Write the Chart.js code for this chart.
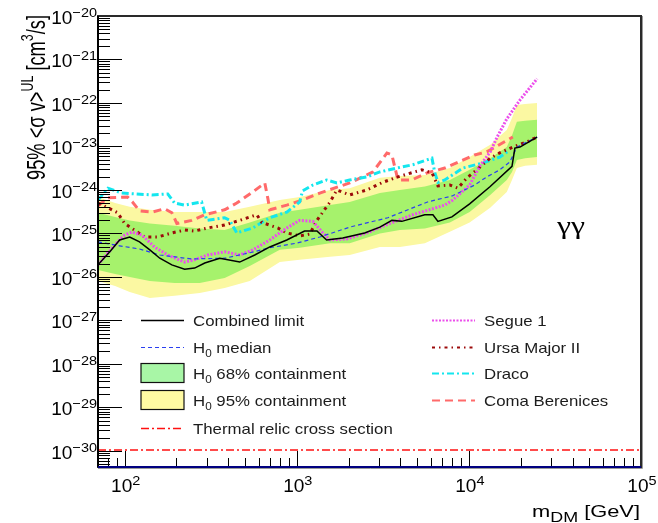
<!DOCTYPE html>
<html>
<head>
<meta charset="utf-8">
<title>gamma gamma limits</title>
<script src="https://cdn.jsdelivr.net/npm/chart.js@4"></script>
<style>
  html, body { margin: 0; padding: 0; background: #fff; }
  #wrap { width: 658px; height: 523px; }
</style>
</head>
<body>
<div id="wrap"><canvas id="limitChart" width="658" height="523"></canvas></div>
<script>
// DM mass grid for the H0 containment bands (GeV)
const bandMass = [70, 88, 107, 140, 195, 273, 381, 533, 797, 1040, 1560, 2030, 3040, 3970, 5550, 7750, 10100, 13300, 16600, 17800, 19000, 21200, 24900];
const band95Upper = [6.9e-25, 5.0e-25, 4.1e-25, 3.5e-25, 3.1e-25, 3.1e-25, 3.1e-25, 4.1e-25, 5.9e-25, 6.9e-25, 1.0e-24, 1.1e-24, 1.9e-24, 2.1e-24, 2.2e-24, 3.2e-24, 5.7e-24, 1.1e-23, 2.4e-23, 4.5e-23, 9.0e-23, 9.5e-23, 1.0e-22];
const band68Upper = [3.0e-25, 2.4e-25, 2.0e-25, 1.7e-25, 1.5e-25, 1.3e-25, 1.2e-25, 1.8e-25, 3.0e-25, 3.5e-25, 4.5e-25, 5.3e-25, 8.5e-25, 1.0e-24, 1.2e-24, 1.7e-24, 2.9e-24, 5.4e-24, 9.7e-24, 1.8e-23, 3.7e-23, 3.9e-23, 4.1e-23];
const band68Lower = [1.45e-26, 1.17e-26, 1.0e-26, 8.1e-27, 7.3e-27, 7.3e-27, 9.5e-27, 1.8e-26, 4.2e-26, 4.7e-26, 6.0e-26, 6.0e-26, 1.0e-25, 1.2e-25, 1.3e-25, 1.8e-25, 3.1e-25, 7.7e-25, 1.7e-24, 2.6e-24, 4.9e-24, 5.4e-24, 5.7e-24];
const band95Lower = [8.1e-27, 6.2e-27, 4.5e-27, 3.3e-27, 3.7e-27, 4.3e-27, 5.6e-27, 8.1e-27, 2.2e-26, 2.5e-26, 2.9e-26, 3.2e-26, 4.9e-26, 4.9e-26, 6.0e-26, 1.1e-25, 1.8e-25, 3.9e-25, 9.0e-25, 1.7e-24, 3.2e-24, 3.6e-24, 3.8e-24];

// combined limit
const combinedMass = [70, 82, 93.5, 107, 122, 140, 160, 188, 223, 255, 292, 357, 466, 570, 697, 875, 1110, 1310, 1490, 1850, 2480, 3040, 3570, 4080, 5540, 6180, 6610, 7970, 10100, 13300, 17800, 18500, 19800, 24900];
const combinedLimit = [1.9e-26, 3.8e-26, 7.1e-26, 8.3e-26, 6.4e-26, 4.2e-26, 2.7e-26, 1.9e-26, 1.5e-26, 1.6e-26, 2.1e-26, 2.7e-26, 2.2e-26, 3.2e-26, 4.9e-26, 7.1e-26, 1.14e-25, 1.14e-25, 7.1e-26, 7.9e-26, 1.03e-25, 1.4e-25, 2.0e-25, 1.9e-25, 2.7e-25, 2.7e-25, 1.9e-25, 2.4e-25, 4.8e-25, 1.2e-24, 3.5e-24, 9.2e-24, 9.7e-24, 1.65e-23];

// H0 median
const medianMass = [70, 93.5, 122, 160, 245, 381, 533, 697, 1000, 1360, 2030, 3380, 5750, 8000, 10800, 12700, 15100, 17300, 19000, 21700, 24900];
const medianLimit = [6.4e-26, 5.2e-26, 4.4e-26, 3.2e-26, 2.6e-26, 2.7e-26, 3.6e-26, 4.7e-26, 6.0e-26, 8.3e-26, 1.4e-25, 2.3e-25, 5.3e-25, 7.3e-25, 1.3e-24, 2.0e-24, 2.9e-24, 4.4e-24, 9.7e-24, 1.27e-23, 1.65e-23];

// individual dwarfs
const segueMass = [70, 80, 91, 100, 110, 126, 149, 178, 223, 255, 304, 381, 466, 555, 697, 875, 1040, 1240, 1420, 1560, 1950, 2550, 3470, 4720, 7250, 8070, 10100, 11600, 13300, 14600, 16600, 19800, 24900];
const segueLimit = [1.9e-26, 3.6e-26, 6.4e-26, 9.2e-26, 1.08e-25, 9.2e-26, 4.9e-26, 3.2e-26, 2.2e-26, 2.5e-26, 3.2e-26, 3.8e-26, 3.2e-26, 4.2e-26, 7.1e-26, 1.34e-25, 2.0e-25, 1.9e-25, 1.03e-25, 7.1e-26, 7.5e-26, 1.03e-25, 1.7e-25, 2.7e-25, 4.5e-25, 5.9e-25, 1.3e-24, 3.6e-24, 7.5e-24, 1.65e-23, 4.3e-23, 1.17e-22, 3.6e-22];

const ursaMass = [70, 80, 91, 100, 114, 131, 156, 188, 223, 255, 304, 381, 466, 586, 626, 775, 875, 1040, 1190, 1310, 1560, 1710, 2030, 2550, 3160, 3870, 4660, 5330, 6100, 6610, 7750, 8630, 9740, 11100, 13300, 15100, 18000, 21700, 24900];
const ursaLimit = [5.0e-25, 3.9e-25, 3.0e-25, 1.7e-25, 1.2e-25, 8.3e-26, 8.3e-26, 1.03e-25, 1.2e-25, 1.14e-25, 1.34e-25, 1.57e-25, 2.0e-25, 2.7e-25, 1.8e-25, 1.34e-25, 1.03e-25, 8.8e-26, 9.7e-26, 2.0e-25, 5.3e-25, 1.0e-24, 7.7e-25, 1.0e-24, 1.5e-24, 2.0e-24, 2.5e-24, 2.9e-24, 2.5e-24, 1.24e-24, 1.3e-24, 1.1e-24, 1.9e-24, 2.9e-24, 5.4e-24, 7.1e-24, 9.7e-24, 1.27e-23, 1.65e-23];

const dracoMass = [70, 80, 96, 144, 178, 195, 223, 280, 300, 381, 408, 448, 555, 697, 875, 1040, 1080, 1240, 1490, 1710, 2030, 2550, 3040, 3810, 4720, 6100, 6340, 6610, 7250, 9230, 12100, 15100, 17300];
const dracoLimit = [5.9e-25, 1.1e-24, 8.5e-25, 7.7e-25, 8.1e-25, 5.0e-25, 4.5e-25, 5.3e-25, 2.0e-25, 2.3e-25, 2.0e-25, 1.03e-25, 1.34e-25, 2.3e-25, 3.1e-25, 5.3e-25, 9.5e-25, 1.3e-24, 1.7e-24, 1.45e-24, 1.7e-24, 2.0e-24, 2.6e-24, 3.2e-24, 3.8e-24, 5.4e-24, 2.5e-24, 1.5e-24, 1.7e-24, 3.2e-24, 4.2e-24, 5.7e-24, 8.3e-24];

const comaMass = [70, 80, 104, 111, 122, 144, 171, 188, 201, 245, 292, 381, 448, 555, 652, 678, 697, 875, 1080, 1360, 2030, 2770, 3340, 3570, 3870, 4660, 5750, 7250, 10800, 12700, 18000];
const comaLimit = [4.3e-25, 6.6e-25, 6.9e-25, 5.3e-25, 3.3e-25, 3.1e-25, 3.7e-25, 3.0e-25, 1.7e-25, 2.0e-25, 2.7e-25, 3.5e-25, 5.0e-25, 9.0e-25, 1.45e-24, 6.6e-25, 3.5e-25, 4.5e-25, 5.9e-25, 8.5e-25, 1.45e-24, 2.6e-24, 7.1e-24, 6.4e-24, 1.7e-24, 1.7e-24, 2.5e-24, 3.2e-24, 6.4e-24, 7.5e-24, 1.65e-23];

// thermal relic reference line
const relicMass = [70, 100000];
const relicLimit = [1.05e-30, 1.05e-30];

// axis decades for the tick labels
const xDecades = [2, 3, 4, 5];
const yDecades = [-30, -29, -28, -27, -26, -25, -24, -23, -22, -21, -20];

const SANS = '"Liberation Sans", Arial, Helvetica, sans-serif';
const SERIF = '"Liberation Serif", "Times New Roman", serif';

function pts(masses, values) {
    return masses.map((m, i) => ({ x: m, y: values[i] }));
}

// split "a^{b}c_{d}" into plain / superscript / subscript pieces
function richParts(text) {
    const parts = [];
    const re = /([\^_])\{([^}]*)\}/g;
    let last = 0, m;
    while ((m = re.exec(text))) {
        if (m.index > last) parts.push({ t: text.slice(last, m.index), k: 'n' });
        parts.push({ t: m[2], k: m[1] === '^' ? 'sup' : 'sub' });
        last = re.lastIndex;
    }
    if (last < text.length) parts.push({ t: text.slice(last), k: 'n' });
    return parts;
}

function drawRich(ctx, text, x, y, o) {
    const size = o.size, fam = o.family || SANS;
    const parts = richParts(text);
    let w = 0;
    parts.forEach(p => {
        p.size = p.k === 'n' ? size : size * (o.small || 0.7);
        ctx.font = p.size + 'px ' + fam;
        p.w = ctx.measureText(p.t).width;
        w += p.w;
    });
    const sx = o.width ? o.width / w : (o.sx || 1);
    ctx.save();
    ctx.translate(x, y);
    if (o.rotate) ctx.rotate(o.rotate);
    ctx.scale(sx, 1);
    ctx.fillStyle = o.color || '#000';
    ctx.textAlign = 'left';
    ctx.textBaseline = 'alphabetic';
    let cx = o.align === 'right' ? -w : (o.align === 'center' ? -w / 2 : 0);
    parts.forEach(p => {
        ctx.font = p.size + 'px ' + fam;
        let dy = 0;
        if (p.k === 'sup') dy = -size * (o.rise || 0.45);
        if (p.k === 'sub') dy = size * (o.drop || 0.28);
        ctx.fillText(p.t, cx, dy);
        cx += p.w;
    });
    ctx.restore();
}

const lineBase = { pointRadius: 0, fill: false, tension: 0, borderCapStyle: 'butt' };

const datasets = [
    { ...lineBase, label: 'Combined limit', data: pts(combinedMass, combinedLimit),
      borderColor: '#000000', borderWidth: 1.5, order: 1 },
    { ...lineBase, label: 'H_{0} median', data: pts(medianMass, medianLimit),
      borderColor: '#2a3ff0', borderWidth: 1.2, borderDash: [4, 3], order: 2 },
    { ...lineBase, label: 'Segue 1', data: pts(segueMass, segueLimit),
      borderColor: '#ec4fec', borderWidth: 3, borderDash: [2, 1.5], order: 3 },
    { ...lineBase, label: 'Ursa Major II', data: pts(ursaMass, ursaLimit),
      borderColor: '#9c0a0a', borderWidth: 3, borderDash: [3, 4, 1.5, 4], order: 4 },
    { ...lineBase, label: 'Draco', data: pts(dracoMass, dracoLimit),
      borderColor: '#14e6ee', borderWidth: 3, borderDash: [7, 3, 2, 3], order: 5 },
    { ...lineBase, label: 'Coma Berenices', data: pts(comaMass, comaLimit),
      borderColor: '#ff6a6a', borderWidth: 3, borderDash: [8, 5], order: 6 },
    { ...lineBase, label: 'Thermal relic cross section', data: pts(relicMass, relicLimit),
      borderColor: '#ff1010', borderWidth: 1.5, borderDash: [8, 3, 2, 3], order: 7 },
    { ...lineBase, label: 'band95 low', data: pts(bandMass, band95Lower),
      borderWidth: 0, borderColor: 'rgba(0,0,0,0)', order: 20 },
    { ...lineBase, label: 'H_{0} 95% containment', data: pts(bandMass, band95Upper),
      borderWidth: 0, borderColor: 'rgba(0,0,0,0)', backgroundColor: '#fbf8a2',
      fill: '-1', legendBox: '#fffaa3', order: 20 },
    { ...lineBase, label: 'band68 low', data: pts(bandMass, band68Lower),
      borderWidth: 0, borderColor: 'rgba(0,0,0,0)', order: 10 },
    { ...lineBase, label: 'H_{0} 68% containment', data: pts(bandMass, band68Upper),
      borderWidth: 0, borderColor: 'rgba(0,0,0,0)', backgroundColor: '#a6f26c',
      fill: '-1', legendBox: '#a8f6a6', order: 10 }
];

// legend columns, by dataset label
const legendLeft = ['Combined limit', 'H_{0} median', 'H_{0} 68% containment', 'H_{0} 95% containment', 'Thermal relic cross section'];
const legendRight = ['Segue 1', 'Ursa Major II', 'Draco', 'Coma Berenices'];

const rootStyle = {
    id: 'rootStyle',
    afterDraw(chart) {
        const { ctx, chartArea: a, scales: { x, y } } = chart;
        ctx.save();

        // tick marks pointing into the frame
        ctx.strokeStyle = '#000';
        ctx.lineWidth = 1;
        ctx.beginPath();
        for (let d = 1; d <= 5; d++) {
            for (let m = 1; m <= 9; m++) {
                const v = m * Math.pow(10, d);
                if (v < x.min || v > x.max * 1.001) continue;
                const px = Math.round(x.getPixelForValue(v)) + 0.5;
                ctx.moveTo(px, a.bottom);
                ctx.lineTo(px, a.bottom - (m === 1 ? 16 : 9));
            }
        }
        for (let d = -31; d <= -20; d++) {
            for (let m = 1; m <= 9; m++) {
                const v = m * Math.pow(10, d);
                if (v < y.min || v > y.max * 1.001) continue;
                const py = Math.round(y.getPixelForValue(v)) + 0.5;
                ctx.moveTo(a.left, py);
                ctx.lineTo(a.left + (m === 1 ? 24 : 12), py);
            }
        }
        ctx.stroke();

        // frame
        ctx.lineWidth = 2;
        ctx.strokeStyle = '#2a2a2a';
        ctx.strokeRect(a.left, a.top, a.right - a.left, a.bottom - a.top);
        ctx.strokeStyle = '#000';
        ctx.beginPath();
        ctx.moveTo(a.left, a.top);
        ctx.lineTo(a.left, a.bottom);
        ctx.stroke();
        ctx.strokeStyle = '#9a9a9a';
        ctx.lineWidth = 1;
        ctx.beginPath();
        ctx.moveTo(a.left, a.bottom + 1.5);
        ctx.lineTo(a.right + 1.5, a.bottom + 1.5);
        ctx.lineTo(a.right + 1.5, a.top);
        ctx.stroke();
        ctx.strokeStyle = '#000080';
        ctx.lineWidth = 2;
        ctx.beginPath();
        ctx.moveTo(a.left, a.bottom);
        ctx.lineTo(a.right, a.bottom);
        ctx.stroke();

        // tick labels
        xDecades.forEach(d => {
            const px = x.getPixelForValue(Math.pow(10, d));
            drawRich(ctx, '10^{' + d + '}', px + 1, 492, { size: 18, align: 'center', sx: 1.06, small: 0.76, rise: 0.4 });
        });
        yDecades.forEach(d => {
            const py = y.getPixelForValue(Math.pow(10, d));
            drawRich(ctx, '10^{\u2212' + Math.abs(d) + '}', 97, py + 8, { size: 18, align: 'right', sx: 1.06, small: 0.76, rise: 0.4 });
        });

        // axis titles
        drawRich(ctx, '95% <\u03c3 v>^{UL} [cm^{3}/s]', 45, 180,
            { size: 25, rotate: -Math.PI / 2, width: 165, small: 0.68, rise: 0.5 });
        drawRich(ctx, 'm_{DM} [GeV]', 640, 517, { size: 17, align: 'right', width: 108, small: 0.82, drop: 0.3 });

        // channel label
        drawRich(ctx, '\u03b3\u03b3', 557, 234, { size: 25, family: SERIF, width: 28 });

        // legend
        const drawEntry = (label, x0, x1, tx, yc) => {
            const ds = chart.data.datasets.find(s => s.label === label);
            if (!ds) return;
            ctx.save();
            if (ds.legendBox) {
                ctx.fillStyle = ds.legendBox;
                ctx.fillRect(x0, yc - 9.5, x1 - x0, 19);
                ctx.strokeStyle = '#111';
                ctx.lineWidth = 1.2;
                ctx.strokeRect(x0, yc - 9.5, x1 - x0, 19);
            } else {
                ctx.strokeStyle = ds.borderColor;
                ctx.lineWidth = Math.min(ds.borderWidth, 2.2);
                ctx.setLineDash(ds.borderDash || []);
                ctx.beginPath();
                ctx.moveTo(x0, Math.round(yc) + 0.5);
                ctx.lineTo(x1, Math.round(yc) + 0.5);
                ctx.stroke();
            }
            ctx.restore();
            drawRich(ctx, label, tx, yc + 5.5, { size: 15, sx: 1.12, color: '#1c1c1c', small: 0.7, drop: 0.3 });
        };
        const rows = [320, 347, 373, 400, 428];
        legendLeft.forEach((lab, i) => drawEntry(lab, 141, 184, 193, rows[i]));
        legendRight.forEach((lab, i) => drawEntry(lab, 432, 475, 484, rows[i]));

        ctx.restore();
    }
};

const ctx = document.getElementById('limitChart').getContext('2d');

const limitChart = new Chart(ctx, {
    type: 'line',
    data: { datasets: datasets },
    options: {
        responsive: false,
        animation: false,
        devicePixelRatio: 1,
        layout: { padding: { left: 0, right: 17, top: 16, bottom: 0 } },
        plugins: {
            legend: { display: false },
            tooltip: { enabled: false },
            title: { display: false }
        },
        scales: {
            x: {
                type: 'logarithmic',
                min: 70,
                max: 100000,
                grid: { display: false },
                border: { display: false },
                ticks: { display: false },
                afterFit(scale) { scale.height = 56; }
            },
            y: {
                type: 'logarithmic',
                min: 4.28e-31,
                max: 1e-20,
                grid: { display: false },
                border: { display: false },
                ticks: { display: false },
                afterFit(scale) { scale.width = 98; }
            }
        }
    },
    plugins: [rootStyle]
});
</script>
</body>
</html>
